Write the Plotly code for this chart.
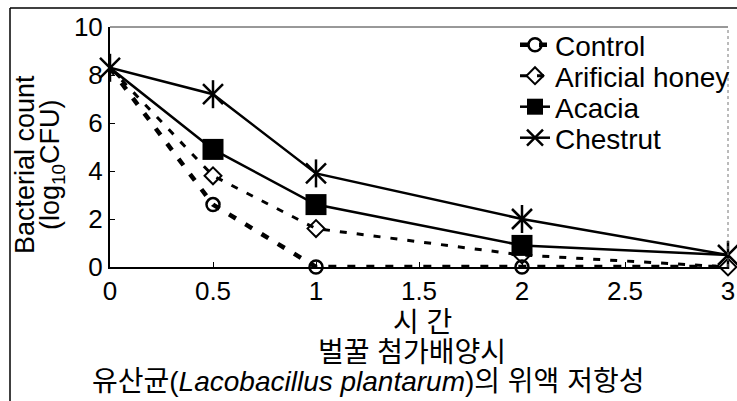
import plotly.graph_objects as go

hours = [0, 0.5, 1, 2, 3]
control = [8.3, 2.6, 0.0, 0.0, 0.0]
artificial = [8.3, 3.8, 1.6, 0.5, 0.0]
acacia = [8.3, 4.9, 2.6, 0.9, 0.5]
chestnut = [8.3, 7.2, 3.9, 2.0, 0.5]

series_names = ["Control", "Arificial honey", "Acacia", "Chestrut"]
x_ticks = [0, 0.5, 1, 1.5, 2, 2.5, 3]
x_ticklabels = ["0", "0.5", "1", "1.5", "2", "2.5", "3"]
y_ticks = [0, 2, 4, 6, 8, 10]

FONT = "Liberation Sans, Arial, Noto Sans CJK KR, sans-serif"

styles = [
    dict(line=dict(color="black", width=4.5, dash="8px,11px"),
         marker=dict(symbol="circle-open", size=13, color="black", opacity=1, line=dict(width=2.5, color="black")),
         show=[False, True, True, True, False]),
    dict(line=dict(color="black", width=3, dash="7px,10px"),
         marker=dict(symbol="diamond-open", size=13, color="black", opacity=1, line=dict(width=2, color="black")),
         show=[False, True, True, True, True]),
    dict(line=dict(color="black", width=2.5),
         marker=dict(symbol="square", size=21, color="black", opacity=1, line=dict(width=0)),
         show=[False, True, True, True, False]),
    dict(line=dict(color="black", width=2.5),
         marker=dict(symbol="x-thin-open", size=20, color="black", opacity=1, line=dict(width=2.5, color="black")),
         show=[True, True, True, True, True]),
]
series = [control, artificial, acacia, chestnut]
legends = ["legend", "legend2", "legend3", "legend4"]

fig = go.Figure()

# data traces (lines through all points; markers only where the original shows them)
for vals, st in zip(series, styles):
    fig.add_trace(go.Scatter(x=hours, y=vals, mode="lines", line=st["line"],
                             showlegend=False, cliponaxis=False, hoverinfo="skip"))
for vals, st, name in zip(series, styles, series_names):
    mx = [h for h, s in zip(hours, st["show"]) if s]
    my = [v for v, s in zip(vals, st["show"]) if s]
    fig.add_trace(go.Scatter(x=mx, y=my, mode="markers", marker=st["marker"], name=name,
                             showlegend=False, cliponaxis=False))
# vertical stroke completing the asterisk marker of the chestnut series
fig.add_trace(go.Scatter(
    x=hours, y=chestnut, mode="markers", showlegend=False, cliponaxis=False,
    marker=dict(symbol="line-ns-open", size=20, color="black", line=dict(width=2.5, color="black"))))

# legend entries
for st, name, lg in zip(styles, series_names, legends):
    fig.add_trace(go.Scatter(x=[None], y=[None], mode="lines+markers", name=name, legend=lg,
                             line=st["line"], marker=st["marker"]))

L, T, PW, PH = 110, 27, 618, 240


def px_x(p):
    return (p - L) / PW


def px_y(p):
    return (T + PH - p) / PH


def leg(ycenter):
    return dict(x=px_x(515), y=px_y(ycenter), xanchor="left", yanchor="middle",
                bgcolor="rgba(0,0,0,0)", font=dict(size=28, family=FONT),
                itemwidth=30, borderwidth=0)


fig.update_layout(
    width=737, height=401,
    margin=dict(l=L, r=737 - L - PW, t=T, b=401 - T - PH, autoexpand=False),
    paper_bgcolor="white", plot_bgcolor="white",
    font=dict(family=FONT, size=26, color="black"),
    showlegend=True,
    legend=leg(45), legend2=leg(76), legend3=leg(107), legend4=leg(138),
    xaxis=dict(range=[0, 3], tickvals=x_ticks, ticktext=x_ticklabels, automargin=False,
               showgrid=False, zeroline=False, showline=True, linecolor="black", linewidth=2,
               ticks="inside", ticklen=5, tickwidth=1, tickcolor="black",
               tickfont=dict(size=26, family=FONT)),
    yaxis=dict(range=[0, 10], tickvals=y_ticks, automargin=False,
               showgrid=False, zeroline=False, showline=True, linecolor="black", linewidth=2,
               ticks="inside", ticklen=5, tickwidth=1, tickcolor="black",
               tickfont=dict(size=26, family=FONT)),
    shapes=[
        dict(type="line", xref="paper", yref="paper", x0=0, x1=1, y0=1, y1=1,
             line=dict(color="#333", width=1)),
        dict(type="line", xref="paper", yref="paper", x0=1, x1=1, y0=0, y1=1,
             line=dict(color="#777", width=1, dash="dot")),
        dict(type="line", xref="paper", yref="paper", x0=px_x(10), x1=px_x(737), y0=px_y(8), y1=px_y(8),
             line=dict(color="black", width=1.5)),
        dict(type="line", xref="paper", yref="paper", x0=px_x(10), x1=px_x(10), y0=px_y(8), y1=px_y(401),
             line=dict(color="black", width=1.5)),
    ],
    annotations=[
        dict(text="Bacterial count", xref="paper", yref="paper", x=px_x(25), y=px_y(165),
             xanchor="center", yanchor="middle",
             textangle=-90, showarrow=False, font=dict(size=27, family=FONT)),
        dict(text="(log<sub>10</sub>CFU)", xref="paper", yref="paper", x=px_x(52), y=px_y(165),
             xanchor="center", yanchor="middle",
             textangle=-90, showarrow=False, font=dict(size=27, family=FONT)),
        dict(text="시 간", xref="paper", yref="paper", x=px_x(422), y=px_y(322),
             xanchor="center", yanchor="middle", showarrow=False, font=dict(size=28, family=FONT)),
        dict(text="벌꿀 첨가배양시", xref="paper", yref="paper", x=px_x(412), y=px_y(352),
             xanchor="center", yanchor="middle", showarrow=False, font=dict(size=28, family=FONT)),
        dict(text="유산균(<i>Lacobacillus plantarum</i>)의 위액 저항성", xref="paper", yref="paper",
             x=px_x(368), y=px_y(381),
             xanchor="center", yanchor="middle", showarrow=False, font=dict(size=28, family=FONT)),
    ],
)

fig.write_html("out.html", config={"displayModeBar": False},
               post_script="document.body.style.margin='0px';document.body.style.padding='0px';")
